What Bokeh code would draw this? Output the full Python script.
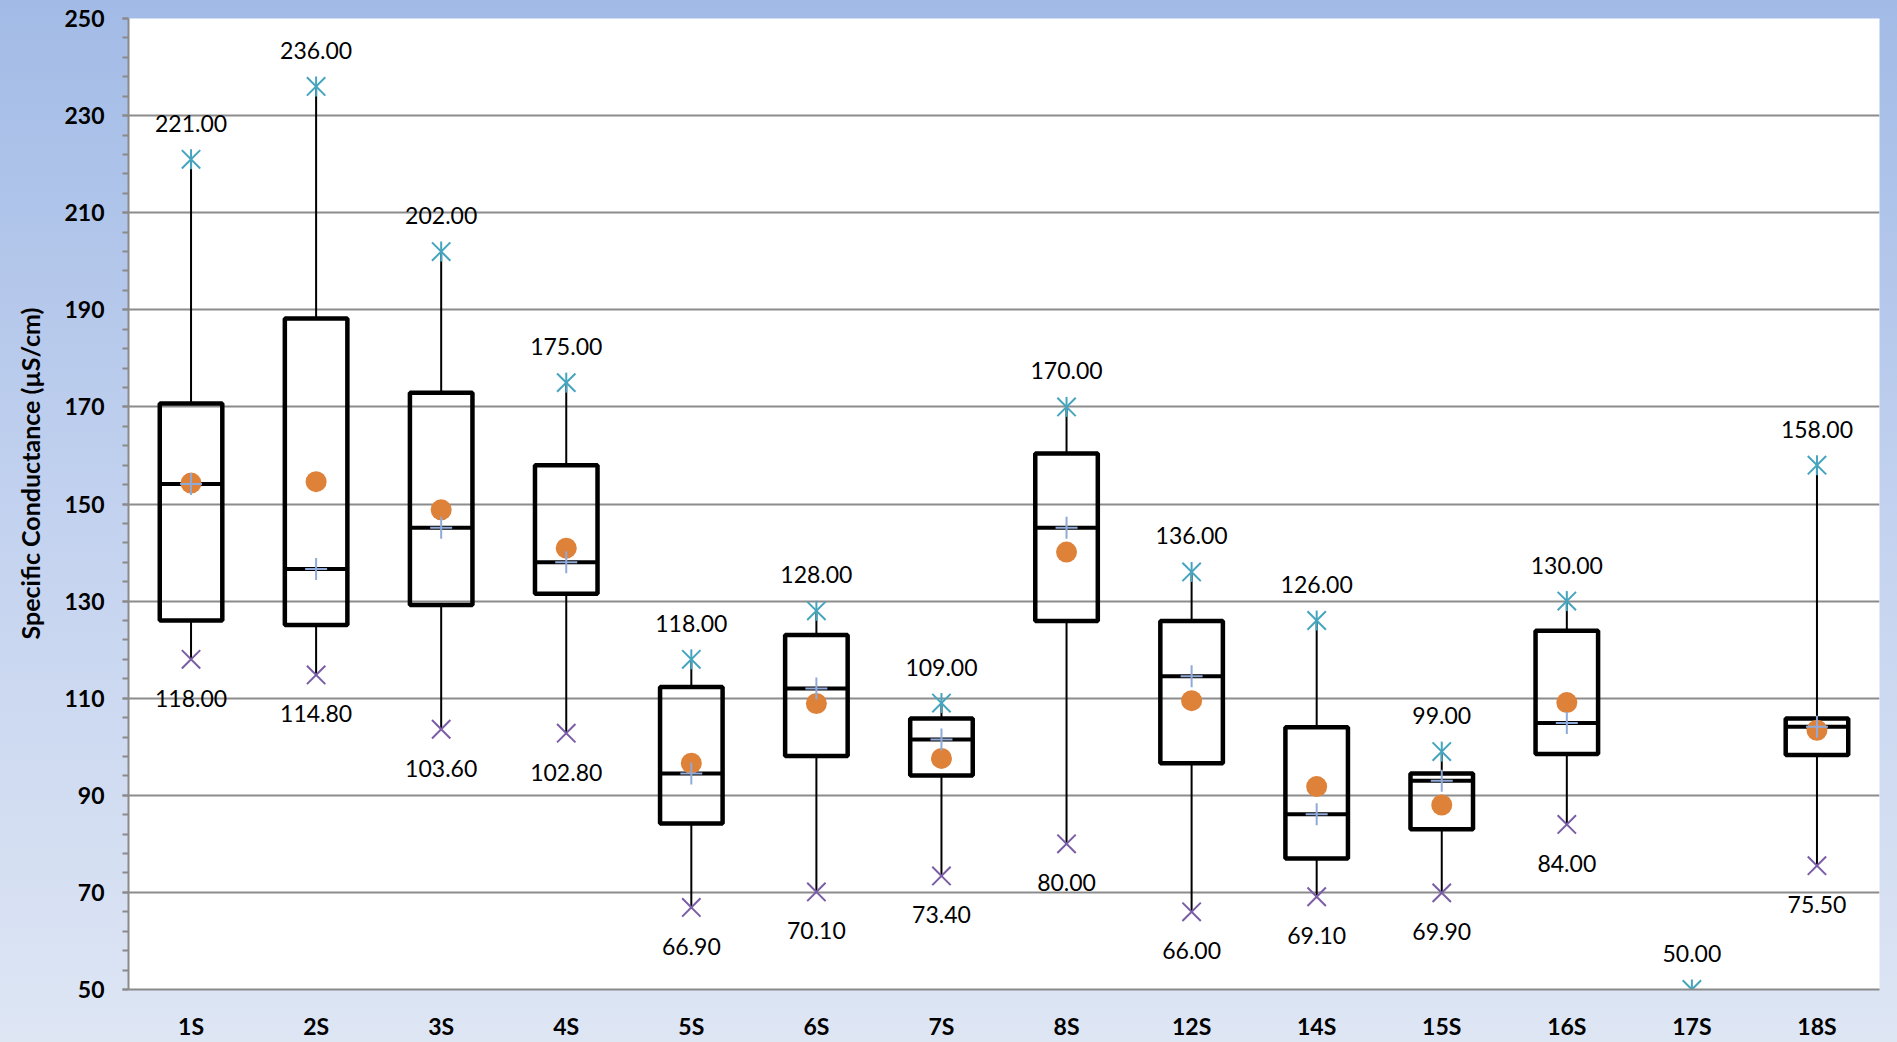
import math
from bokeh.plotting import figure
from bokeh.models import ColumnDataSource, Title, FixedTicker, Range1d, FactorRange
from bokeh.transform import dodge
from bokeh.embed import file_html
from bokeh.resources import INLINE
from bokeh.core.properties import value

sites = ["1S", "2S", "3S", "4S", "5S", "6S", "7S", "8S", "12S", "14S", "15S", "16S", "17S", "18S"]
max_vals = [221.0, 236.0, 202.0, 175.0, 118.0, 128.0, 109.0, 170.0, 136.0, 126.0, 99.0, 130.0, 50.0, 158.0]
min_vals = [118.0, 114.8, 103.6, 102.8, 66.9, 70.1, 73.4, 80.0, 66.0, 69.1, 69.9, 84.0, None, 75.5]
q3_vals = [170.7, 188.2, 172.9, 158.0, 112.3, 123.0, 105.8, 160.4, 125.9, 104.0, 94.5, 123.9, None, 105.8]
q1_vals = [126.0, 125.1, 129.2, 131.5, 84.2, 98.1, 94.1, 125.9, 96.6, 77.0, 83.0, 98.5, None, 98.3]
median_vals = [154.1, 136.6, 145.1, 138.0, 94.5, 112.0, 101.5, 145.1, 114.5, 86.1, 93.0, 104.9, None, 104.1]
mean_vals = [154.3, 154.6, 148.8, 140.9, 96.6, 108.9, 97.6, 140.1, 109.5, 91.8, 88.0, 109.1, None, 103.4]
y_ticks = [50, 70, 90, 110, 130, 150, 170, 190, 210, 230, 250]
y_min, y_max = 50, 250

FONT = "Lato"

idx = [i for i in range(len(sites)) if q1_vals[i] is not None]
box_src = ColumnDataSource(dict(
    site=[sites[i] for i in idx],
    q1=[q1_vals[i] for i in idx],
    q3=[q3_vals[i] for i in idx],
    med=[median_vals[i] for i in idx],
    mean=[mean_vals[i] for i in idx],
    mx=[max_vals[i] for i in idx],
    mn=[min_vals[i] for i in idx],
))
max_src = ColumnDataSource(dict(site=sites, mx=max_vals, lbl=[f"{v:.2f}" for v in max_vals]))
min_idx = [i for i in range(len(sites)) if min_vals[i] is not None]
min_src = ColumnDataSource(dict(site=[sites[i] for i in min_idx],
                                mn=[min_vals[i] for i in min_idx],
                                lbl=[f"{min_vals[i]:.2f}" for i in min_idx]))

p = figure(width=1897, height=1042, x_range=FactorRange(factors=sites), y_range=Range1d(y_min, y_max),
           output_backend="svg", toolbar_location=None,
           min_border_left=128, min_border_right=18, min_border_top=18, min_border_bottom=51)
p.border_fill_alpha = 0
p.styles = {"background": "linear-gradient(180deg, #A2BBE6 0%, #C3D2EF 50%, #DEE6F4 100%)"}
p.background_fill_color = "white"
p.outline_line_color = None

ticker = FixedTicker(ticks=y_ticks, minor_ticks=list(range(50, 251, 4)))
p.yaxis.ticker = ticker
p.ygrid.ticker = ticker
p.ygrid.grid_line_color = "#8C8C8C"
p.ygrid.grid_line_width = 2
p.xgrid.visible = False
for ax in (p.xaxis[0], p.yaxis[0]):
    ax.axis_line_color = "#8A8A8A"
    ax.axis_line_width = 2
    ax.major_tick_line_color = "#8A8A8A"
    ax.minor_tick_line_color = "#8A8A8A"
    ax.major_tick_line_width = 2
    ax.minor_tick_line_width = 2
    ax.major_label_text_font = FONT
    ax.major_label_text_font_style = "bold"
    ax.major_label_text_font_size = "23px"
    ax.major_label_text_color = "black"
p.yaxis.major_tick_out = 6
p.yaxis.major_tick_in = 0
p.yaxis.minor_tick_out = 6
p.yaxis.minor_tick_in = 0
p.yaxis.major_label_standoff = 18
p.xaxis.major_tick_out = 0
p.xaxis.major_tick_in = 0
p.xaxis.minor_tick_line_color = None
p.xaxis.major_label_standoff = 22
p.xaxis.major_label_text_line_height = 0.9

p.add_layout(Title(text="Specific Conductance (µS/cm)", align="left", offset=350,
                   vertical_align="top", standoff=29,
                   text_font=FONT, text_font_style="bold", text_font_size="25px",
                   text_color="black"), "left")

# whiskers
p.segment(x0="site", y0="q3", x1="site", y1="mx", source=box_src, line_color="black", line_width=2)
p.segment(x0="site", y0="q1", x1="site", y1="mn", source=box_src, line_color="black", line_width=2)
# boxes
p.vbar(x="site", bottom="q1", top="q3", width=0.5, source=box_src, fill_color=None,
       line_color="black", line_width=4.5)
# median line
p.segment(x0=dodge("site", -0.25, range=p.x_range), y0="med",
          x1=dodge("site", 0.25, range=p.x_range), y1="med",
          source=box_src, line_color="black", line_width=4)
# mean
p.scatter(x="site", y="mean", source=box_src, marker="circle", size=21,
          fill_color="#DE8139", line_color=None)
# median marker
p.scatter(x="site", y="med", source=box_src, marker="cross", size=22,
          line_color="#8FAAD8", line_width=2)
# max markers (asterisk: x + vertical stroke)
p.scatter(x="site", y="mx", source=max_src, marker="x", size=26,
          line_color="#45A5BE", line_width=2)
p.scatter(x="site", y="mx", source=max_src, marker="dash", angle=math.pi / 2, size=20,
          line_color="#45A5BE", line_width=2)
# min markers
p.scatter(x="site", y="mn", source=min_src, marker="x", size=26,
          line_color="#7A5DA6", line_width=2)
# labels
p.text(x="site", y="mx", text="lbl", source=max_src, y_offset=-36, text_align="center",
       text_baseline="middle", text_font=value(FONT), text_font_size="23px", text_color="black")
p.text(x="site", y="mn", text="lbl", source=min_src, y_offset=39, text_align="center",
       text_baseline="middle", text_font=value(FONT), text_font_size="23px", text_color="black")

open("out.html", "w").write(file_html(p, INLINE))
